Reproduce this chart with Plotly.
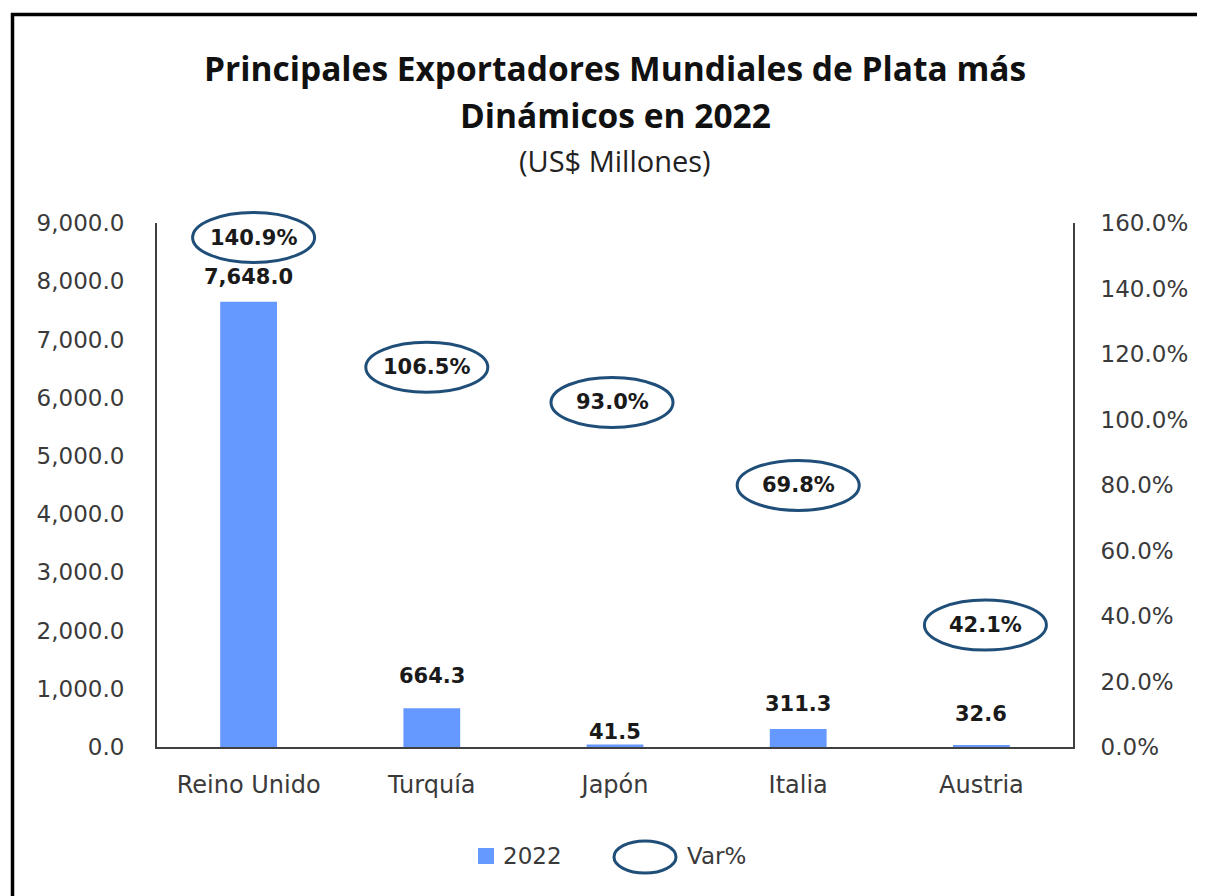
import plotly.graph_objects as go

# ---------------- data ----------------
categories = ["Reino Unido", "Turquía", "Japón", "Italia", "Austria"]
exports_2022 = [7648.0, 664.3, 41.5, 311.3, 32.6]          # US$ millones
var_pct = [140.9, 106.5, 93.0, 69.8, 42.1]                 # variación %

left_tick_vals = [0, 1000, 2000, 3000, 4000, 5000, 6000, 7000, 8000, 9000]
left_tick_text = ["0.0", "1,000.0", "2,000.0", "3,000.0", "4,000.0",
                  "5,000.0", "6,000.0", "7,000.0", "8,000.0", "9,000.0"]
right_tick_vals = [0, 20, 40, 60, 80, 100, 120, 140, 160]
right_tick_text = ["0.0%", "20.0%", "40.0%", "60.0%", "80.0%",
                   "100.0%", "120.0%", "140.0%", "160.0%"]

# ------------- label placement (pixels, layout only) -------------
bar_label_yshift = [25, 32, 13, 25, 31]
var_label_yshift = [48, 31, 40, 33, -16]
var_label_xshift = [5, -5, -3, 0, 4]

# ---------------- styles ----------------
# page body adds an 8px margin, so the figure is drawn 8px smaller/shifted
OFF = 8
W, H = 1205 - OFF, 896 - OFF
PL, PR, PT, PB = 157, 1073, 223, 747          # plot box in screen pixels
L, T = PL - OFF, PT - OFF
R, B = W - (PR - OFF), H - (PB - OFF)
BAR_COLOR = "#6699FF"
NAVY = "#1F4E79"
AXIS_COLOR = "#404040"
TXT = "#3a3a3a"
TICK_FONT = dict(family="DejaVu Sans", size=23, color=TXT)
CAT_FONT = dict(family="DejaVu Sans", size=24, color=TXT)
LABEL_FONT = dict(family="DejaVu Sans", size=21, color="#1a1a1a")
TITLE_FONT = dict(family="Open Sans", size=33.5, color="#111111")

pw, ph = PR - PL, PB - PT
Y2_MAX = right_tick_vals[-1]


def px(xpix):
    return (xpix - PL) / pw


def py(ypix):
    return (PB - ypix) / ph


fig = go.Figure()
fig.add_trace(go.Bar(
    x=categories, y=exports_2022, name="2022",
    marker=dict(color=BAR_COLOR, line=dict(width=0)),
    width=0.31, showlegend=False,
))
fig.add_trace(go.Scatter(
    x=categories, y=var_pct, name="Var%", yaxis="y2",
    mode="markers", marker=dict(size=1, opacity=0), showlegend=False,
))

annotations = []
shapes = []

# bar value labels
for i, (c, v) in enumerate(zip(categories, exports_2022)):
    annotations.append(dict(
        x=c, y=v, xref="x", yref="y", text=f"<b>{v:,.1f}</b>",
        showarrow=False, yanchor="middle", yshift=bar_label_yshift[i],
        font=LABEL_FONT,
    ))

# Var% labels inside ellipses (ellipses anchored in paper space so they
# are not clipped by the plot area)
n = len(categories)
for i, (c, v) in enumerate(zip(categories, var_pct)):
    xs, ys = var_label_xshift[i], var_label_yshift[i]
    shapes.append(dict(
        type="circle", xref="paper", yref="paper",
        xsizemode="pixel", ysizemode="pixel",
        xanchor=(i + 0.5) / n, yanchor=v / Y2_MAX,
        x0=xs - 61, x1=xs + 61, y0=ys - 25, y1=ys + 25,
        line=dict(color=NAVY, width=3), fillcolor="rgba(0,0,0,0)",
    ))
    annotations.append(dict(
        x=c, y=v, xref="x", yref="y2", text=f"<b>{v:.1f}%</b>",
        showarrow=False, yanchor="middle", xshift=xs, yshift=ys,
        font=LABEL_FONT,
    ))

# titles
annotations += [
    dict(x=px(615), y=py(68), xref="paper", yref="paper",
         text="<b>Principales Exportadores Mundiales de Plata más</b>",
         showarrow=False, xanchor="center", yanchor="middle",
         font=TITLE_FONT),
    dict(x=px(615), y=py(115), xref="paper", yref="paper",
         text="<b>Dinámicos en 2022</b>",
         showarrow=False, xanchor="center", yanchor="middle",
         font=TITLE_FONT),
    dict(x=px(615), y=py(160), xref="paper", yref="paper",
         text="(US$ Millones)",
         showarrow=False, xanchor="center", yanchor="middle",
         font=dict(family="Open Sans", size=29, color="#222222")),
]

# manual legend
shapes.append(dict(type="rect", xref="paper", yref="paper",
                   x0=px(478), x1=px(494), y0=py(864), y1=py(848),
                   fillcolor=BAR_COLOR, line=dict(width=0)))
annotations.append(dict(x=px(501), y=py(856), xref="paper", yref="paper",
                        text="2022", showarrow=False, xanchor="left",
                        yanchor="middle", font=TICK_FONT))
shapes.append(dict(type="circle", xref="paper", yref="paper",
                   x0=px(614), x1=px(676), y0=py(873), y1=py(841),
                   line=dict(color=NAVY, width=3), fillcolor="rgba(0,0,0,0)"))
annotations.append(dict(x=px(685), y=py(856), xref="paper", yref="paper",
                        text="Var%", showarrow=False, xanchor="left",
                        yanchor="middle", font=TICK_FONT))

# outer frame (top and left edges visible)
shapes.append(dict(type="line", xref="paper", yref="paper",
                   x0=px(11), x1=px(1240), y0=py(14.5), y1=py(14.5),
                   line=dict(color="#000000", width=3.5)))
shapes.append(dict(type="line", xref="paper", yref="paper",
                   x0=px(12.5), x1=px(12.5), y0=py(13), y1=py(920),
                   line=dict(color="#000000", width=3.5)))

fig.update_layout(
    width=W, height=H,
    margin=dict(l=L, r=R, t=T, b=B, pad=0),
    paper_bgcolor="white", plot_bgcolor="white",
    annotations=annotations, shapes=shapes,
    xaxis=dict(showline=True, linecolor=AXIS_COLOR, linewidth=2,
               showgrid=False, zeroline=False, ticks="",
               tickfont=CAT_FONT, ticklabelstandoff=15),
    yaxis=dict(range=[0, 9000], tickvals=left_tick_vals, ticktext=left_tick_text,
               showline=True, linecolor=AXIS_COLOR, linewidth=2,
               showgrid=False, zeroline=False, ticks="",
               tickfont=TICK_FONT, ticklabelstandoff=26),
    yaxis2=dict(range=[0, Y2_MAX], tickvals=right_tick_vals, ticktext=right_tick_text,
                overlaying="y", side="right",
                showline=True, linecolor=AXIS_COLOR, linewidth=2,
                showgrid=False, zeroline=False, ticks="",
                tickfont=TICK_FONT, ticklabelstandoff=21),
    showlegend=False,
)

fig.write_html("out.html")
